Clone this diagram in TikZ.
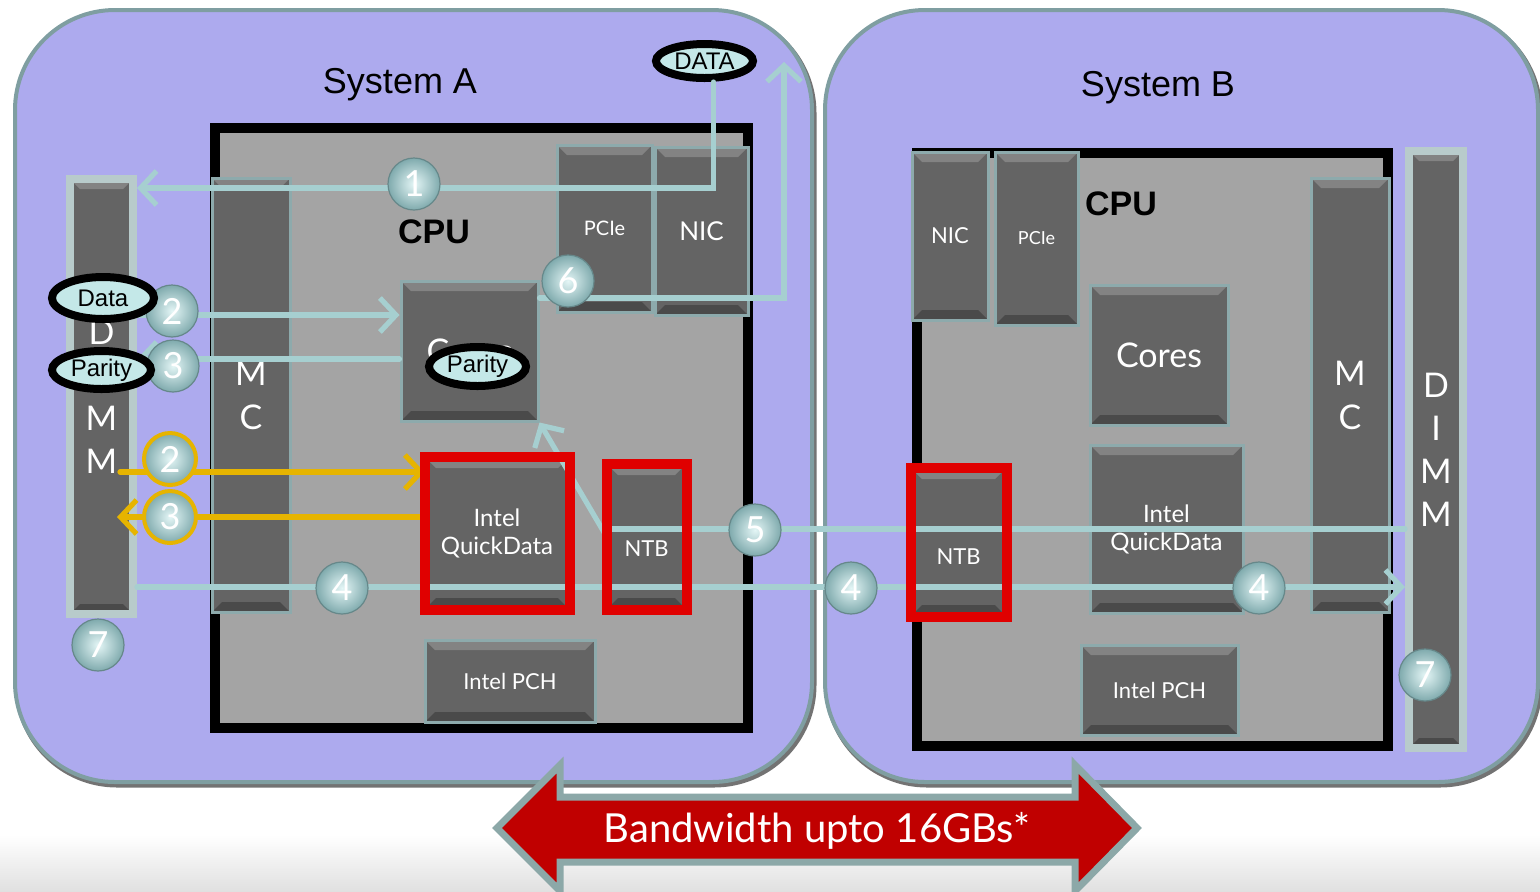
\documentclass[tikz,border=0pt]{standalone}
\usepackage{fontspec}
\setmainfont{Liberation Sans}
\newfontfamily\gill{Lato}
\usetikzlibrary{arrows.meta,positioning,shapes.geometric}
\definecolor{lav}{HTML}{ADAAEE}
\definecolor{rim}{HTML}{7F9EA1}
\definecolor{chipgray}{HTML}{A4A4A4}
\definecolor{blkgray}{HTML}{646464}
\definecolor{edge}{HTML}{8DAAAC}
\definecolor{silver}{HTML}{B8CBCB}
\definecolor{pipecol}{HTML}{A6CFD0}
\definecolor{gold}{HTML}{E6B400}
\definecolor{hot}{HTML}{E00000}
\definecolor{bigred}{HTML}{C00000}
\definecolor{beadin}{HTML}{E4F6F6}
\definecolor{beadout}{HTML}{7FAAAD}
\definecolor{tagfill}{HTML}{C4E8E8}
\definecolor{arrowrim}{HTML}{8CA8A8}
\begin{document}
\begin{tikzpicture}[x=0.5pt,y=-0.5pt,>={Straight Barb[length=8pt,width=17pt]},
  panel/.style={draw=rim,line width=2pt,fill=lav,rounded corners=50pt,inner sep=0pt,
    preaction={draw=black!55,line width=2.5pt,transform canvas={shift={(1pt,-1.5pt)}}}},
  chip/.style={draw=black,line width=5pt,fill=chipgray,inner sep=0pt},
  bevel/.style={path picture={
    \fill[white,opacity=.2] (path picture bounding box.north west) -- (path picture bounding box.north east)
      -- ([shift={(-5pt,-5pt)}]path picture bounding box.north east) -- ([shift={(5pt,-5pt)}]path picture bounding box.north west) -- cycle;
    \fill[black,opacity=.25] (path picture bounding box.south west) -- (path picture bounding box.south east)
      -- ([shift={(-5pt,5pt)}]path picture bounding box.south east) -- ([shift={(5pt,5pt)}]path picture bounding box.south west) -- cycle;}},
  blk/.style={draw=edge,line width=1.5pt,fill=blkgray,text=white,align=center,inner sep=0pt,bevel},
  dimm/.style={blk,draw=silver,line width=4pt,font={\gill\fontsize{17}{21.5}\selectfont}},
  hotframe/.style={draw=hot,line width=5pt},
  pipe/.style={draw=pipecol,line width=2.6pt,line cap=round},
  goldpipe/.style={pipe,draw=gold},
  bead/.style={circle,minimum size=26pt,inner sep=0pt,draw=beadout!80!black,line width=0.6pt,
    inner color=beadin,outer color=beadout,text=white,font={\gill\fontsize{18}{18}\selectfont}},
  goldbead/.style={bead,draw=gold,line width=2pt},
  tag/.style={ellipse,draw=black,line width=4pt,fill=tagfill,inner sep=0pt,font={\fontsize{12}{12}\selectfont}}]
\useasboundingbox (0,0) rectangle (1540,891);
\shade[top color=white,bottom color=black!12] (0,835) rectangle (1540,891);

% the two systems
\node[panel,minimum width=398.5pt,minimum height=386pt] (panA) at (413.5,396) {};
\node[panel,minimum width=356.5pt,minimum height=386pt] (panB) at (1181.5,396) {};
\node[font={\fontsize{18}{18}\selectfont}] (sysA) at (400,85) {System A};
\node[font={\fontsize{18}{18}\selectfont}] (sysB) at (1158,88) {System B};
\node[chip,minimum width=266.5pt,minimum height=300pt] (cpuA) at (481.5,428) {};
\node[chip,minimum width=235.5pt,minimum height=296.5pt] (cpuB) at (1152.5,449.5) {};
\node[font={\bfseries\fontsize{17}{17}\selectfont}] (cpuAlbl) at (434,232) {CPU};
\node[font={\bfseries\fontsize{17}{17}\selectfont}] (cpuBlbl) at (1121,204) {CPU};

% system A parts
\node[dimm,minimum width=31.5pt,minimum height=217.5pt] (dimmA) at (101.5,396.5) {D\\I\\M\\M};
\node[blk,minimum width=39pt,minimum height=217pt,font={\gill\fontsize{17}{22}\selectfont}] (mcA) at (251,395) {M\\C};
\node[blk,minimum width=47.5pt,minimum height=83.5pt,font={\gill\fontsize{10}{12}\selectfont}] (pcieA) at (604.5,228.5) {PCIe};
\node[blk,minimum width=46.5pt,minimum height=84pt,font={\gill\fontsize{13}{15}\selectfont}] (nicA) at (701.5,231) {NIC};
\node[blk,minimum width=68.5pt,minimum height=70pt,font={\gill\fontsize{17}{20}\selectfont}] (coresA) at (469.5,351) {Cores};
\node[blk,minimum width=71pt,minimum height=75pt,font={\gill\fontsize{12}{14}\selectfont}] (qdA) at (497,533) {Intel\\QuickData};
\node[blk,minimum width=38.5pt,minimum height=71.5pt,text height=20pt,text depth=0pt,font={\gill\fontsize{11}{13}\selectfont}] (ntbA) at (646.5,536.5) {NTB};
\node[blk,minimum width=85pt,minimum height=41pt,font={\gill\fontsize{11}{13}\selectfont}] (pchA) at (510,681) {Intel PCH};

% system B parts
\node[blk,minimum width=38pt,minimum height=84pt,font={\gill\fontsize{11}{13}\selectfont}] (nicB) at (950,236) {NIC};
\node[blk,minimum width=41.5pt,minimum height=86.5pt,font={\gill\fontsize{9}{11}\selectfont}] (pcieB) at (1036.5,238.5) {PCIe};
\node[blk,minimum width=69pt,minimum height=70pt,font={\gill\fontsize{17}{20}\selectfont}] (coresB) at (1159,355) {Cores};
\node[blk,minimum width=39pt,minimum height=217pt,font={\gill\fontsize{17}{22}\selectfont}] (mcB) at (1350,395) {M\\C};
\node[dimm,minimum width=27pt,minimum height=298.5pt] (dimmB) at (1436,449.5) {D\\I\\M\\M};
\node[blk,minimum width=76.5pt,minimum height=84pt,font={\gill\fontsize{12}{14}\selectfont}] (qdB) at (1166.5,529) {Intel\\QuickData};
\node[blk,minimum width=46.5pt,minimum height=73pt,text height=22pt,text depth=0pt,font={\gill\fontsize{11}{13}\selectfont}] (ntbB) at (958.5,542) {NTB};
\node[blk,minimum width=78.5pt,minimum height=45pt,font={\gill\fontsize{11}{13}\selectfont}] (pchB) at (1159.5,690) {Intel PCH};

% rows and free ends
\coordinate (r1) at (0,188);
\coordinate (r6) at (0,298);
\coordinate (r2) at (0,315);
\coordinate (r3) at (0,359);
\coordinate (rg2) at (0,472);
\coordinate (rg3) at (0,517);
\coordinate (r5) at (0,529);
\coordinate (r4) at (0,587);
\coordinate (upA) at (784,62);
\coordinate (g2s) at (120,472);
\coordinate (g3e) at (117,517);
\node[tag,minimum width=48.5pt,minimum height=17pt] (dataTag) at (704.5,61) {DATA};

% data paths
\draw[pipe,->] ([xshift=4.5pt]dataTag.south) |- (dimmA.east |- r1);
\draw[pipe,->] (coresA.east |- r6) -| (upA);
\draw[pipe,->] (dimmA.east |- r2) -- (coresA.west |- r2);
\draw[pipe,->] (coresA.west |- r3) -- (dimmA.east |- r3);
\draw[goldpipe,->] (g2s) -- (qdA.west |- rg2);
\draw[goldpipe,->] (qdA.west |- rg3) -- (g3e);
\draw[pipe,->] (dimmA.east |- r4) -- (dimmB.west |- r4);
\draw[pipe] (ntbA.west |- r5) -- (dimmB.west |- r5);
\draw[pipe,->] (ntbA.west) -- (coresA.south east);

% highlighted engines
\draw[hotframe] (qdA.south west) rectangle (qdA.north east);
\draw[hotframe] (ntbA.south west) rectangle (ntbA.north east);
\draw[hotframe] (ntbB.south west) rectangle (ntbB.north east);

% steps
\node[bead] (b1) at (414,184) {1};
\node[bead] (b2) at (172,311) {2};
\node[bead] (b3) at (173,366) {3};
\node[goldbead] (g2) at (170,459) {2};
\node[goldbead] (g3) at (170,517) {3};
\node[bead] (b4a) at (342,588) {4};
\node[bead] (b4b) at (851,588) {4};
\node[bead] (b4c) at (1259,588) {4};
\node[bead] (b5) at (755,530) {5};
\node[bead] (b6) at (568,281) {6};
\node[bead] (b7a) at (98,645) {7};
\node[bead] (b7b) at (1425,675) {7};
\node[tag,minimum width=51pt,minimum height=21pt] (dataA) at (103,298) {Data};
\node[tag,minimum width=49.5pt,minimum height=19pt] (parA) at (101.5,370) {Parity};
\node[tag,minimum width=48.5pt,minimum height=19.5pt] (parC) at (477.5,366.5) {Parity};

% link bandwidth
\filldraw[draw=arrowrim,line width=3.5pt,fill=bigred,line join=miter] (497,828) -- (560,765) -- (560,797) -- (1075,797)
  -- (1075,765) -- (1137,828) -- (1075,891) -- (1075,862) -- (560,862) -- (560,891) -- cycle;
\node[text=white,font={\gill\fontsize{20}{20}\selectfont}] (bw) at (817,831) {Bandwidth upto 16GBs*};
\end{tikzpicture}
\end{document}
